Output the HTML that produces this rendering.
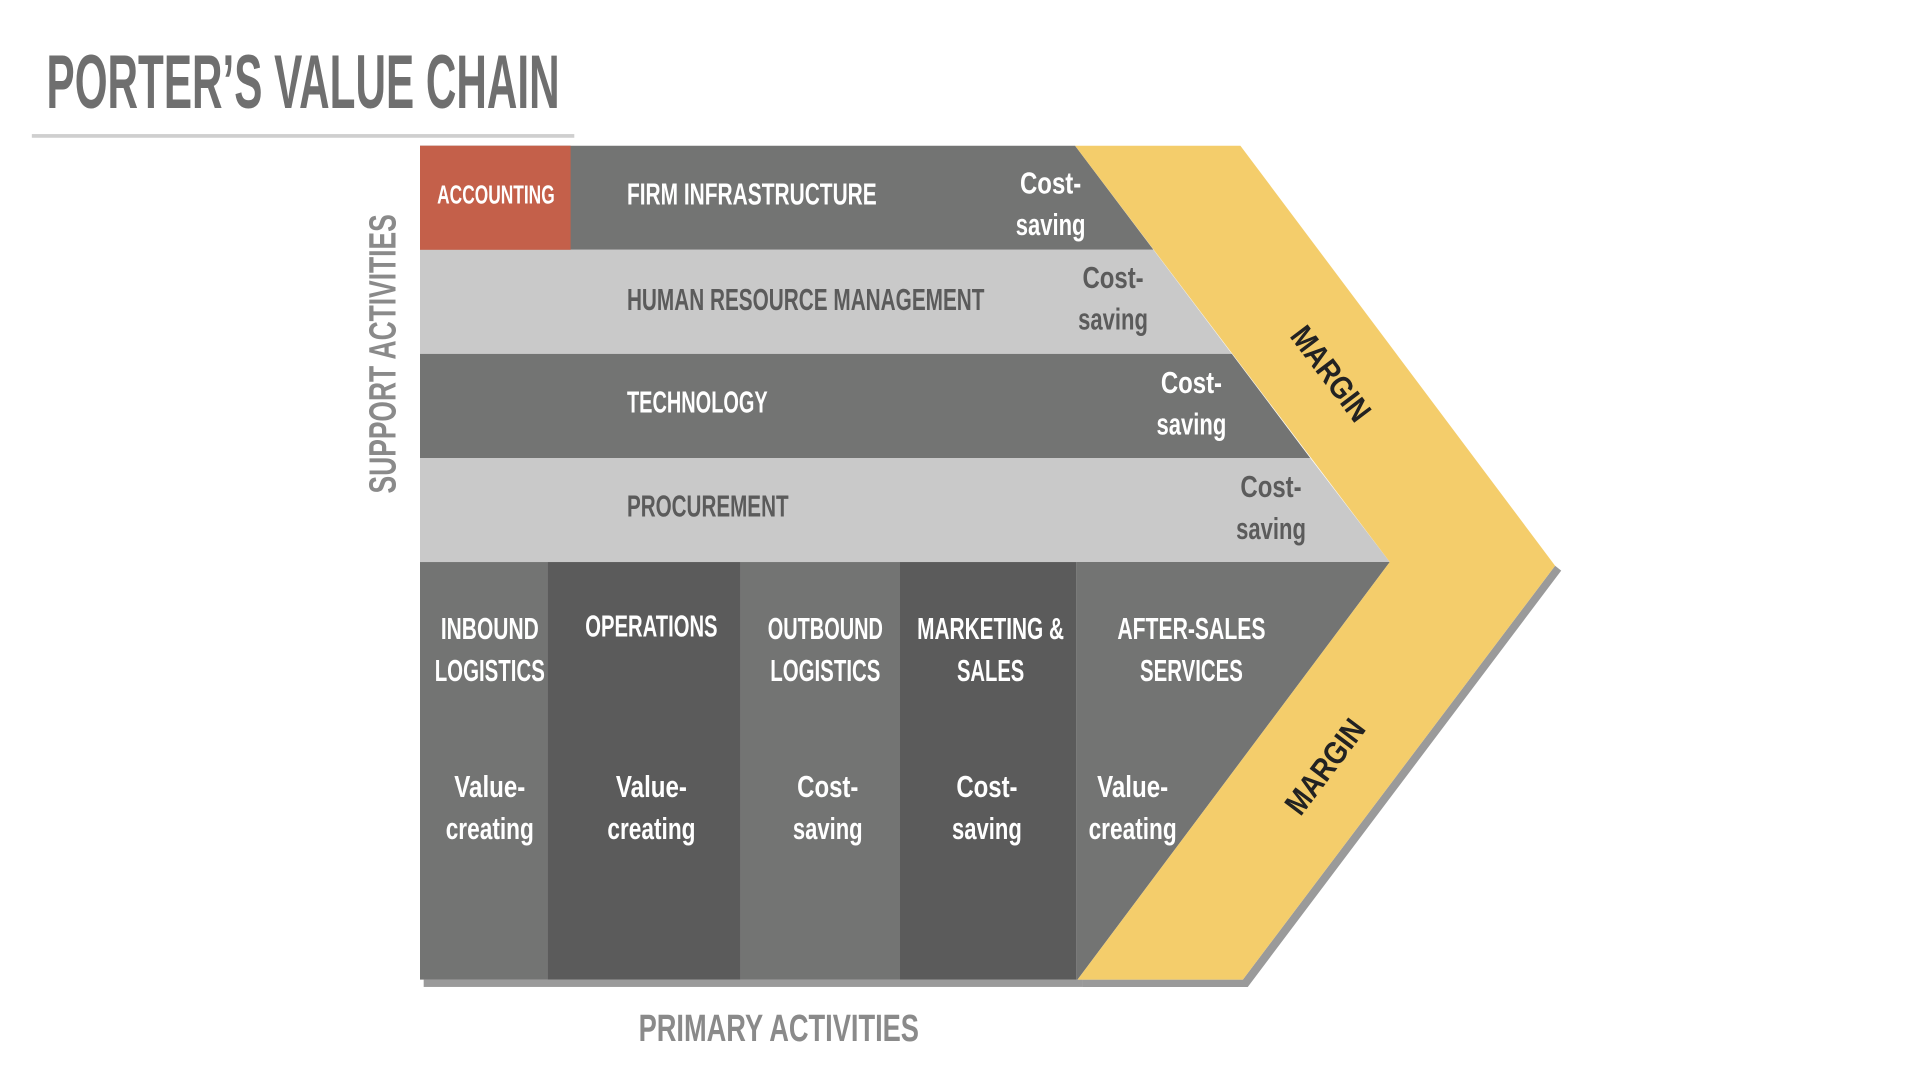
<!DOCTYPE html>
<html><head><meta charset="utf-8"><style>
html,body{margin:0;padding:0;background:#fff;width:1920px;height:1080px;overflow:hidden}
svg{display:block}
text{font-family:"Liberation Sans",sans-serif;font-weight:bold}
</style></head><body>
<svg width="1920" height="1080" viewBox="0 0 1568 882" xmlns="http://www.w3.org/2000/svg">
<text x="38" y="88" font-size="62" fill="#6f6f6f" textLength="419" lengthAdjust="spacingAndGlyphs">PORTER’S VALUE CHAIN</text>
<rect x="26" y="109.5" width="443" height="3" fill="#cfcfcf"/>
<!-- shadows -->
<polygon points="1270,462 1275,466 1019,806 884,806 884,800 1015,800" fill="#9a9a9a"/>
<rect x="346" y="800" width="538" height="6" fill="#9a9a9a"/>
<!-- support rows -->
<polygon points="343,119 878,119 942,204 343,204" fill="#737473"/>
<polygon points="343,204 942,204 1006,289 343,289" fill="#c9c9c9"/>
<polygon points="343,289 1006,289 1070,374 343,374" fill="#737473"/>
<polygon points="343,374 1070,374 1135,459 343,459" fill="#c9c9c9"/>
<rect x="343" y="119" width="123" height="85" fill="#c4604a"/>
<!-- primary -->
<polygon points="879,459 1135,459 880,800 879,800" fill="#737473"/>
<rect x="343" y="459" width="104" height="341" fill="#737473"/>
<rect x="447" y="459" width="158" height="341" fill="#5b5b5b"/>
<rect x="605" y="459" width="130" height="341" fill="#737473"/>
<rect x="735" y="459" width="144" height="341" fill="#5b5b5b"/>
<!-- margin -->
<polygon points="878,119 1013,119 1270,462 1015,800 880,800 1135,459" fill="#f4cd6b"/>
<g font-size="25" fill="#fff">
<text x="357" y="166" font-size="21" textLength="96" lengthAdjust="spacingAndGlyphs">ACCOUNTING</text>
<text x="512" y="167" textLength="204" lengthAdjust="spacingAndGlyphs">FIRM INFRASTRUCTURE</text>
<text x="512" y="337" textLength="115" lengthAdjust="spacingAndGlyphs">TECHNOLOGY</text>
<text x="858" y="158" text-anchor="middle" textLength="50" lengthAdjust="spacingAndGlyphs">Cost-</text>
<text x="858" y="192" text-anchor="middle" textLength="57" lengthAdjust="spacingAndGlyphs">saving</text>
<text x="973" y="321" text-anchor="middle" textLength="50" lengthAdjust="spacingAndGlyphs">Cost-</text>
<text x="973" y="355" text-anchor="middle" textLength="57" lengthAdjust="spacingAndGlyphs">saving</text>
</g>
<g font-size="25" fill="#5b5b5b">
<text x="512" y="253" textLength="292" lengthAdjust="spacingAndGlyphs">HUMAN RESOURCE MANAGEMENT</text>
<text x="512" y="422" textLength="132" lengthAdjust="spacingAndGlyphs">PROCUREMENT</text>
<text x="909" y="235" text-anchor="middle" textLength="50" lengthAdjust="spacingAndGlyphs">Cost-</text>
<text x="909" y="269" text-anchor="middle" textLength="57" lengthAdjust="spacingAndGlyphs">saving</text>
<text x="1038" y="406" text-anchor="middle" textLength="50" lengthAdjust="spacingAndGlyphs">Cost-</text>
<text x="1038" y="440" text-anchor="middle" textLength="57" lengthAdjust="spacingAndGlyphs">saving</text>
</g>
<g font-size="25" fill="#fff" text-anchor="middle">
<text x="400" y="522" textLength="80" lengthAdjust="spacingAndGlyphs">INBOUND</text>
<text x="400" y="556" textLength="90" lengthAdjust="spacingAndGlyphs">LOGISTICS</text>
<text x="532" y="520" textLength="108" lengthAdjust="spacingAndGlyphs">OPERATIONS</text>
<text x="674" y="522" textLength="94" lengthAdjust="spacingAndGlyphs">OUTBOUND</text>
<text x="674" y="556" textLength="90" lengthAdjust="spacingAndGlyphs">LOGISTICS</text>
<text x="809" y="522" textLength="120" lengthAdjust="spacingAndGlyphs">MARKETING &amp;</text>
<text x="809" y="556" textLength="55" lengthAdjust="spacingAndGlyphs">SALES</text>
<text x="973" y="522" textLength="121" lengthAdjust="spacingAndGlyphs">AFTER-SALES</text>
<text x="973" y="556" textLength="84" lengthAdjust="spacingAndGlyphs">SERVICES</text>
<text x="400" y="651" textLength="58" lengthAdjust="spacingAndGlyphs">Value-</text>
<text x="400" y="685" textLength="72" lengthAdjust="spacingAndGlyphs">creating</text>
<text x="532" y="651" textLength="58" lengthAdjust="spacingAndGlyphs">Value-</text>
<text x="532" y="685" textLength="72" lengthAdjust="spacingAndGlyphs">creating</text>
<text x="676" y="651" textLength="50" lengthAdjust="spacingAndGlyphs">Cost-</text>
<text x="676" y="685" textLength="57" lengthAdjust="spacingAndGlyphs">saving</text>
<text x="806" y="651" textLength="50" lengthAdjust="spacingAndGlyphs">Cost-</text>
<text x="806" y="685" textLength="57" lengthAdjust="spacingAndGlyphs">saving</text>
<text x="925" y="651" textLength="58" lengthAdjust="spacingAndGlyphs">Value-</text>
<text x="925" y="685" textLength="72" lengthAdjust="spacingAndGlyphs">creating</text>
</g>
<g font-size="26" fill="#222" text-anchor="middle">
<text transform="translate(1087,305) rotate(53)" y="9" textLength="90" lengthAdjust="spacingAndGlyphs">MARGIN</text>
<text transform="translate(1082,626) rotate(-53)" y="9" textLength="90" lengthAdjust="spacingAndGlyphs">MARGIN</text>
</g>
<text transform="translate(323,289) rotate(-90)" text-anchor="middle" font-size="31" fill="#8a8a8a" textLength="228" lengthAdjust="spacingAndGlyphs">SUPPORT ACTIVITIES</text>
<text x="636" y="850" text-anchor="middle" font-size="31" fill="#8a8a8a" textLength="229" lengthAdjust="spacingAndGlyphs">PRIMARY ACTIVITIES</text>
</svg>
</body></html>
